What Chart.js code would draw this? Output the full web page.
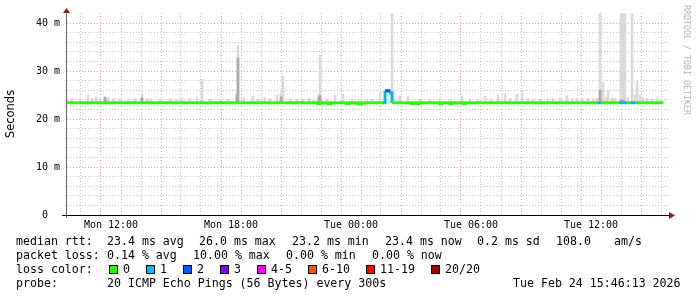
<!DOCTYPE html>
<html><head><meta charset="utf-8">
<script src="https://cdn.jsdelivr.net/npm/chart.js@4.4.1/dist/chart.umd.min.js"></script>
<style>
html,body{margin:0;padding:0;background:#fff;}
#wrap{position:relative;width:697px;height:297px;overflow:hidden;background:#fff;}
#c{position:absolute;left:0;top:0;}
.t{position:absolute;font-family:'DejaVu Sans Mono',monospace;font-size:11.6px;line-height:14px;color:#000;white-space:pre;}
.box{position:absolute;width:7px;height:7px;border:1px solid #000;}
#ytitle{position:absolute;left:-20px;top:107px;width:60px;height:14px;line-height:14px;text-align:center;font-family:'DejaVu Sans',sans-serif;font-size:11.5px;color:#000;transform:rotate(-90deg);}
#wm{position:absolute;left:627px;top:55px;width:120px;height:10px;line-height:10px;text-align:center;font-family:'DejaVu Sans Mono',monospace;font-size:8.3px;color:#b4b4b4;transform:rotate(90deg);white-space:pre;}
</style></head>
<body>
<div id="wrap">
<canvas id="c" width="697" height="297"></canvas>
<div id="ytitle">Seconds</div>
<div id="wm">RRDTOOL / TOBI OETIKER</div>
<div id="legend"></div>
</div>
<script>
// ---- data (hours since Mon 00:00) ----
const xTickHours = [12, 18, 24, 30, 36];
const xTickLabels = ['Mon 12:00', 'Mon 18:00', 'Tue 00:00', 'Tue 06:00', 'Tue 12:00'];
const yTickValues = [0, 10, 20, 30, 40];
const yTickLabels = ['0  ', '10 m', '20 m', '30 m', '40 m'];

const lossLabels = ['0', '1', '2', '3', '4-5', '6-10', '11-19', '20/20'];
const lossColors = ['#26ff00', '#00b8ff', '#0059ff', '#7e00ff', '#ff00ff', '#ff5500', '#ff0000', '#a10000'];

// median RTT (ms) step series and loss bucket index
const medHours  = [9.8, 22.35, 22.45, 22.85, 22.95, 23.8, 23.9, 24.35, 24.55, 25.6, 25.7, 25.9, 26.05, 27.05, 27.15, 27.3, 27.4, 28.45, 28.55, 28.95, 29.05, 29.6, 29.7, 36.35, 36.5, 37.4, 37.8, 38.0, 38.2, 39.6];
const medValues = [23.4, 23.2, 23.4, 23.2, 23.4, 23.2, 23.4, 23.2, 23.4, 23.4, 25.9, 25.5, 23.4, 23.2, 23.4, 23.2, 23.4, 23.2, 23.4, 23.2, 23.4, 23.2, 23.4, 23.4, 23.4, 23.4, 23.4, 23.4, 23.4, 23.4];
const medLoss   = [0, 0, 0, 0, 0, 0, 0, 0, 0, 1, 2, 1, 0, 0, 0, 0, 0, 0, 0, 0, 0, 0, 0, 1, 0, 1, 0, 1, 0, 0];

// smoke (ping spread) — floor and per-interval maxima
const smokeFloor = 23.3;
const smokeHours = [9.85, 10.05, 10.45, 10.85, 11.05, 11.25, 11.45, 11.7, 11.85, 12.1, 12.45, 12.85, 13.2, 13.55, 13.8, 14.0, 14.45, 14.95, 15.25, 15.55, 15.95, 16.3, 16.55, 16.95, 17.45, 17.85, 18.3, 18.35, 18.65, 19.1, 19.35, 19.7, 19.95, 20.3, 20.5, 20.6, 20.95, 21.3, 21.6, 21.9, 22.15, 22.4, 22.45, 22.8, 23.2, 23.6, 24.05, 24.45, 24.8, 25.05, 25.45, 26.05, 26.45, 26.85, 27.45, 27.95, 28.45, 28.95, 29.55, 29.95, 30.35, 30.7, 31.0, 31.35, 31.7, 31.95, 32.3, 32.55, 32.85, 33.1, 33.45, 33.85, 34.1, 34.45, 34.8, 35.05, 35.3, 35.55, 35.85, 36.1, 36.3, 36.45, 36.6, 36.75, 36.85, 37.05, 37.2, 37.5, 37.6, 37.7, 37.85, 38.05, 38.2, 38.3, 38.45, 38.6, 38.8, 39.05, 39.3, 39.5];
const smokeHigh  = [24.0, 24.2, 24.2, 25.0, 24.4, 24.6, 24.3, 24.8, 24.5, 24.3, 24.2, 24.2, 24.3, 25.2, 24.2, 24.2, 24.1, 24.2, 24.1, 24.4, 24.4, 24.5, 28.3, 24.1, 24.2, 24.1, 25.6, 35.2, 24.4, 24.8, 24.1, 24.6, 24.2, 25.0, 25.5, 29.0, 24.2, 24.1, 24.1, 24.3, 24.1, 25.2, 33.3, 24.2, 25.0, 25.1, 24.1, 24.0, 24.2, 24.1, 25.6, 42.0, 24.8, 24.8, 24.1, 24.1, 24.2, 24.1, 24.8, 24.1, 24.1, 24.8, 24.2, 25.0, 25.2, 24.3, 25.2, 26.0, 24.3, 24.2, 24.1, 24.2, 24.3, 24.5, 24.8, 24.3, 24.4, 24.2, 24.3, 24.2, 24.4, 42.0, 27.7, 24.5, 26.0, 24.4, 24.3, 42.0, 42.0, 42.0, 24.5, 42.0, 25.0, 27.9, 25.0, 24.5, 24.3, 24.2, 24.2, 24.1];
const smokeDarkHours = [11.7, 13.55, 18.3, 18.35, 20.5, 22.4, 22.45, 36.45, 37.5, 37.6];
const smokeDarkHigh  = [24.5, 24.4, 25.0, 32.7, 24.6, 24.6, 24.9, 26.0, 24.0, 24.0];

// legend text
const legendRows = [
  [[16,'median rtt:'],[107,'23.4 ms avg'],[199,'26.0 ms max'],[292,'23.2 ms min'],[385,'23.4 ms now'],[477,'0.2 ms sd'],[556,'108.0'],[614,'am/s']],
  [[16,'packet loss:'],[107,'0.14 % avg'],[193,'10.00 % max'],[286,'0.00 % min'],[372,'0.00 % now']],
  [[16,'loss color:']],
  [[16,'probe:'],[107,'20 ICMP Echo Pings (56 Bytes) every 300s'],[513,'Tue Feb 24 15:46:13 2026']]
];
const lossBoxX = [109, 146, 183, 220, 257, 308, 366, 431];

// ---- legend DOM ----
const lg = document.getElementById('legend');
const rowTop = [234, 248, 262, 276];
legendRows.forEach((row, r) => {
  row.forEach(([x, s]) => {
    const d = document.createElement('div');
    d.className = 't'; d.style.left = x + 'px'; d.style.top = rowTop[r] + 'px';
    d.textContent = s; lg.appendChild(d);
  });
});
lossLabels.forEach((lab, i) => {
  const b = document.createElement('div');
  b.className = 'box'; b.style.left = lossBoxX[i] + 'px'; b.style.top = (rowTop[2] + 3) + 'px';
  b.style.background = lossColors[i]; lg.appendChild(b);
  const d = document.createElement('div');
  d.className = 't'; d.style.left = (lossBoxX[i] + 14) + 'px'; d.style.top = rowTop[2] + 'px';
  d.textContent = lab; lg.appendChild(d);
});

// ---- chart ----
const MAJOR = '#f0a0a0', MINOR = '#c4c4c4';
const axisPlugin = {
  id: 'axisPlugin',
  afterDatasetsDraw(chart) {
    const { ctx, chartArea: a } = chart;
    ctx.save();
    ctx.lineWidth = 1;
    ctx.strokeStyle = '#666';
    ctx.beginPath(); ctx.moveTo(a.left - 0.5, a.bottom + 3); ctx.lineTo(a.left - 0.5, a.top - 3); ctx.stroke();
    ctx.strokeStyle = '#000';
    ctx.beginPath(); ctx.moveTo(a.left - 5, a.bottom + 0.5); ctx.lineTo(a.right, a.bottom + 0.5); ctx.stroke();
    ctx.fillStyle = '#8b1a1a';
    ctx.beginPath(); ctx.moveTo(a.left - 0.5, a.top - 5); ctx.lineTo(a.left - 4, a.top); ctx.lineTo(a.left + 3, a.top); ctx.closePath(); ctx.fill();
    ctx.beginPath(); ctx.moveTo(a.right + 5, a.bottom + 0.5); ctx.lineTo(a.right - 1, a.bottom - 3); ctx.lineTo(a.right - 1, a.bottom + 4); ctx.closePath(); ctx.fill();
    ctx.restore();
  }
};

new Chart(document.getElementById('c'), {
  type: 'bar',
  data: {
    datasets: [
      {
        type: 'line', order: 0,
        data: medHours.map((h, i) => ({ x: h, y: medValues[i] })),
        stepped: true, borderWidth: 3, pointRadius: 0, fill: false,
        borderColor: lossColors[0], borderCapStyle: 'butt',
        segment: { borderColor: c => lossColors[medLoss[c.p0DataIndex]] }
      },
      {
        type: 'bar', order: 1, grouped: false,
        data: smokeDarkHours.map((h, i) => ({ x: h, y: [smokeFloor, smokeDarkHigh[i]] })),
        backgroundColor: '#a9a9a9', borderWidth: 0, barThickness: 2
      },
      {
        type: 'bar', order: 2, grouped: false,
        data: smokeHours.map((h, i) => ({ x: h, y: [smokeFloor, smokeHigh[i]] })),
        backgroundColor: '#d9d9d9', borderWidth: 0, barThickness: 2
      }
    ]
  },
  options: {
    responsive: false, animation: false, devicePixelRatio: 1,
    layout: { padding: { left: 0, right: 27, top: 13, bottom: 0 } },
    plugins: { legend: { display: false }, tooltip: { enabled: false } },
    scales: {
      x: {
        type: 'linear', min: 9.8, max: 39.95, offset: false,
        afterFit: s => { s.height = 82; },
        ticks: {
          stepSize: 1, includeBounds: false, autoSkip: false, maxRotation: 0, padding: 4,
          font: { family: 'DejaVu Sans Mono', size: 10 }, color: '#000',
          callback: v => { const i = xTickHours.indexOf(Math.round(v)); return (i >= 0 && Math.abs(v - Math.round(v)) < 1e-6) ? xTickLabels[i] : ''; }
        },
        grid: { drawTicks: false, lineWidth: 1, color: c => (c.tick && Math.round(c.tick.value) % 3 === 0) ? MAJOR : MINOR },
        border: { display: false, dash: [1, 2] }
      },
      y: {
        type: 'linear', min: 0, max: 42.1,
        afterFit: s => { s.width = 67; },
        afterBuildTicks: s => { s.ticks = s.ticks.filter(t => t.value <= 40); },
        ticks: {
          stepSize: 2, includeBounds: false, autoSkip: false, padding: 7,
          font: { family: 'DejaVu Sans Mono', size: 10 }, color: '#000',
          callback: v => { const i = yTickValues.indexOf(Math.round(v)); return (i >= 0 && Math.abs(v - Math.round(v)) < 1e-6) ? yTickLabels[i] : ''; }
        },
        grid: { drawTicks: false, lineWidth: 1, color: c => (c.tick && Math.round(c.tick.value) % 10 === 0) ? MAJOR : MINOR },
        border: { display: false, dash: [1, 2] }
      }
    }
  },
  plugins: [axisPlugin]
});
</script>
</body></html>
